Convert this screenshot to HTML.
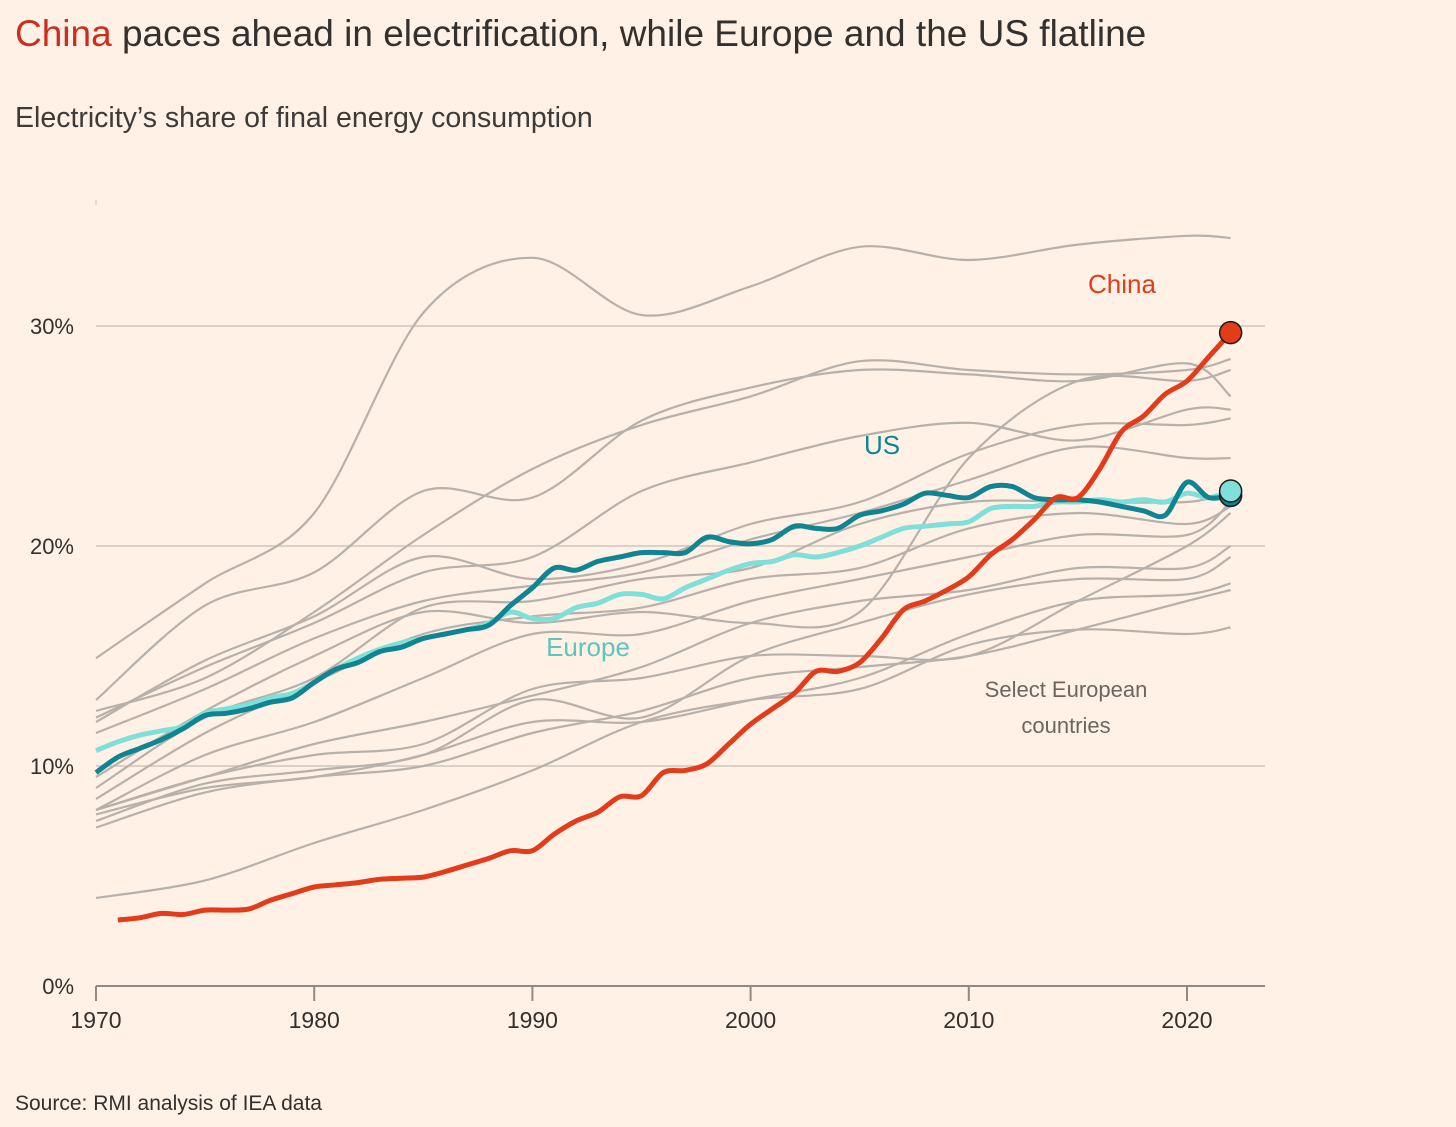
<!DOCTYPE html>
<html><head><meta charset="utf-8">
<style>
html,body{margin:0;padding:0;background:#fff1e5;}
body{width:1456px;height:1127px;overflow:hidden;font-family:"Liberation Sans",sans-serif;color:#33302e;position:relative;}
.t{position:absolute;white-space:nowrap;}
</style></head>
<body>
<div class="t" style="left:15px;top:13px;font-size:37px;"><span style="color:#cc2e1d">China</span> paces ahead in electrification, while Europe and the US flatline</div>
<div class="t" style="left:15px;top:102px;font-size:28.5px;color:#3d3a38;">Electricity’s share of final energy consumption</div>
<svg id="chart" width="1456" height="1127" style="position:absolute;left:0;top:0" xmlns="http://www.w3.org/2000/svg"></svg>
<div class="t" style="left:15px;top:1092px;font-size:21px;color:#33302e;">Source: RMI analysis of IEA data</div>
<script>
const yTicks=[0,10,20,30];
const xTicks=[1970,1980,1990,2000,2010,2020];
const chinaYears=[1971,1972,1973,1974,1975,1976,1977,1978,1979,1980,1981,1982,1983,1984,1985,1986,1987,1988,1989,1990,1991,1992,1993,1994,1995,1996,1997,1998,1999,2000,2001,2002,2003,2004,2005,2006,2007,2008,2009,2010,2011,2012,2013,2014,2015,2016,2017,2018,2019,2020,2021,2022];
const chinaVals=[3.0,3.1,3.3,3.25,3.45,3.45,3.5,3.9,4.2,4.5,4.6,4.7,4.85,4.9,4.95,5.2,5.5,5.8,6.15,6.15,6.9,7.5,7.9,8.6,8.65,9.7,9.8,10.1,11.0,11.9,12.6,13.3,14.3,14.3,14.7,15.8,17.1,17.5,18.0,18.6,19.6,20.3,21.2,22.2,22.2,23.5,25.2,25.9,26.9,27.5,28.6,29.7];
const fullYears=[1970,1971,1972,1973,1974,1975,1976,1977,1978,1979,1980,1981,1982,1983,1984,1985,1986,1987,1988,1989,1990,1991,1992,1993,1994,1995,1996,1997,1998,1999,2000,2001,2002,2003,2004,2005,2006,2007,2008,2009,2010,2011,2012,2013,2014,2015,2016,2017,2018,2019,2020,2021,2022];
const usVals=[9.7,10.4,10.8,11.2,11.7,12.3,12.4,12.6,12.9,13.1,13.8,14.4,14.7,15.2,15.4,15.8,16.0,16.2,16.4,17.3,18.1,19.0,18.9,19.3,19.5,19.7,19.7,19.7,20.4,20.2,20.1,20.3,20.9,20.8,20.8,21.4,21.6,21.9,22.4,22.3,22.2,22.7,22.7,22.2,22.1,22.1,22.0,21.8,21.6,21.4,22.9,22.2,22.3];
const europeVals=[10.7,11.1,11.4,11.6,11.8,12.4,12.6,12.8,13.1,13.3,13.8,14.4,14.9,15.3,15.6,15.8,16.0,16.2,16.5,17.0,16.7,16.7,17.2,17.4,17.8,17.8,17.6,18.1,18.5,18.9,19.2,19.3,19.6,19.5,19.7,20.0,20.4,20.8,20.9,21.0,21.1,21.7,21.8,21.8,22.0,22.0,22.1,22.0,22.1,22.0,22.4,22.2,22.5];
const grayYears=[1970,1975,1980,1985,1990,1995,2000,2005,2010,2015,2020,2022];
const gray1=[14.9,18.3,21.5,30.6,33.1,30.5,31.8,33.6,33.0,33.7,34.1,34.0];
const gray2=[13.0,17.3,18.8,22.5,22.2,25.7,27.2,28.0,27.8,27.5,28.3,26.8];
const gray3=[12.5,14.0,17.0,20.5,23.5,25.5,26.8,28.4,28.0,27.8,28.0,28.5];
const gray4=[12.2,14.5,16.5,18.8,19.5,22.5,23.8,25.0,25.6,24.8,26.2,26.2];
const gray5=[12.0,14.8,16.8,19.5,18.5,19.2,21.0,22.0,24.2,25.5,25.5,25.8];
const gray6=[11.5,13.5,15.8,17.5,18.2,18.8,20.3,21.5,23.0,24.5,24.0,24.0];
const gray7=[9.0,12.2,14.0,17.2,17.5,18.5,19.0,21.0,22.0,22.0,22.0,22.5];
const gray8=[8.5,11.5,13.8,16.0,16.8,17.2,18.5,19.0,20.8,21.5,21.0,21.8];
const gray9=[8.0,10.5,12.0,14.0,16.0,16.0,17.5,18.5,19.5,20.5,20.5,22.0];
const gray10=[8.0,9.5,11.0,12.0,13.2,14.5,16.5,17.5,18.0,19.0,19.0,20.0];
const gray11=[7.5,9.2,9.8,10.5,13.0,12.2,15.0,16.5,17.8,18.5,18.5,19.5];
const gray12=[7.8,9.0,9.5,10.5,12.0,12.0,13.0,14.0,16.0,17.5,17.8,18.3];
const gray13=[7.2,8.8,9.5,10.0,11.5,12.5,14.0,14.5,15.0,16.2,17.5,18.0];
const gray14=[4.0,4.8,6.5,8.0,9.8,12.0,13.0,13.5,15.5,16.2,16.0,16.3];
const gray15=[9.5,12.5,15.0,17.0,16.5,17.0,16.5,17.0,24.0,27.5,27.5,28.0];
const gray16=[8.0,9.5,10.5,11.0,13.5,14.0,15.0,15.0,15.0,17.5,20.0,21.5];
const grays=[gray1,gray2,gray3,gray4,gray5,gray6,gray7,gray8,gray9,gray10,gray11,gray12,gray13,gray14,gray15,gray16];

const NS="http://www.w3.org/2000/svg";
const svg=document.getElementById('chart');
const X0=96,X1=1187,Y0=986,Y10=220;
function xs(yr){return X0+(yr-1970)*(X1-X0)/50;}
function ys(v){return Y0-v*Y10/10;}
function mk(tag,attrs){const e=document.createElementNS(NS,tag);for(const k in attrs)e.setAttribute(k,attrs[k]);svg.appendChild(e);return e;}
function pathD(years,vals){
  const p=years.map((y,i)=>[xs(y),ys(vals[i])]);
  let d='M'+p[0][0]+','+p[0][1];
  for(let i=0;i<p.length-1;i++){
    const p0=p[i-1]||p[i],p1=p[i],p2=p[i+1],p3=p[i+2]||p2;
    const t=0.16;
    d+=' C'+(p1[0]+(p2[0]-p0[0])*t)+','+(p1[1]+(p2[1]-p0[1])*t)+' '+(p2[0]-(p3[0]-p1[0])*t)+','+(p2[1]-(p3[1]-p1[1])*t)+' '+p2[0]+','+p2[1];
  }
  return d;
}
yTicks.forEach(v=>{
  if(v>0){const g=mk('line',{x1:X0,x2:1265,y1:ys(v),y2:ys(v),stroke:'#cfc5bb','stroke-width':1.5});
  
  }
  const t=mk('text',{x:74,y:ys(v)+8,'text-anchor':'end','font-size':22,fill:'#33302e','font-family':'Liberation Sans, sans-serif'});
  t.textContent=v+'%';
  
  
});
const topMark=mk('line',{x1:X0,x2:X0,y1:200,y2:205,stroke:'#cfc5bb','stroke-width':1});


const ax=mk('line',{x1:X0,x2:1265,y1:Y0,y2:Y0,stroke:'#8f8a85','stroke-width':2});


xTicks.forEach(yr=>{
  const l=mk('line',{x1:xs(yr),x2:xs(yr),y1:Y0,y2:Y0+15,stroke:'#8f8a85','stroke-width':2});
  
  
  const t=mk('text',{x:xs(yr),y:Y0+42,'text-anchor':'middle','font-size':23,fill:'#33302e','font-family':'Liberation Sans, sans-serif'});
  t.textContent=yr;
  
  
});
grays.forEach((vals,i)=>{
  const p=mk('path',{d:pathD(grayYears,vals),fill:'none',stroke:'#b8b1ab','stroke-width':2.2});
  
  
});
const eu=mk('path',{d:pathD(fullYears,europeVals),fill:'none',stroke:'#7fdfd9','stroke-width':5});


const us=mk('path',{d:pathD(fullYears,usVals),fill:'none',stroke:'#0f8493','stroke-width':5});


const cn=mk('path',{d:pathD(chinaYears,chinaVals),fill:'none',stroke:'#e23c1a','stroke-width':5});


const d1=mk('circle',{cx:xs(2022),cy:ys(usVals[usVals.length-1]),r:11,fill:'#0f8493',stroke:'#1a1a1a','stroke-width':1.5});


const d2=mk('circle',{cx:xs(2022),cy:ys(europeVals[europeVals.length-1]),r:11,fill:'#7fdfd9',stroke:'#1a1a1a','stroke-width':1.5});


const d3=mk('circle',{cx:xs(2022),cy:ys(chinaVals[chinaVals.length-1]),r:11,fill:'#e23c1a',stroke:'#1a1a1a','stroke-width':1.5});


function lab(txt,x,y,col,name,size){const t=mk('text',{x:x,y:y,'text-anchor':'middle','font-size':size||26,fill:col,'font-family':'Liberation Sans, sans-serif'});t.textContent=txt;
  
  }
lab('China',1122,293,'#e23c1a','china-label');
lab('US',882,454,'#0f8493','us-label');
lab('Europe',588,656,'#5fc4bc','europe-label');
lab('Select European',1066,697,'#6b6661','european-countries-label',22);
lab('countries',1066,733,'#6b6661','european-countries-label-2',22);
</script>
</body></html>
